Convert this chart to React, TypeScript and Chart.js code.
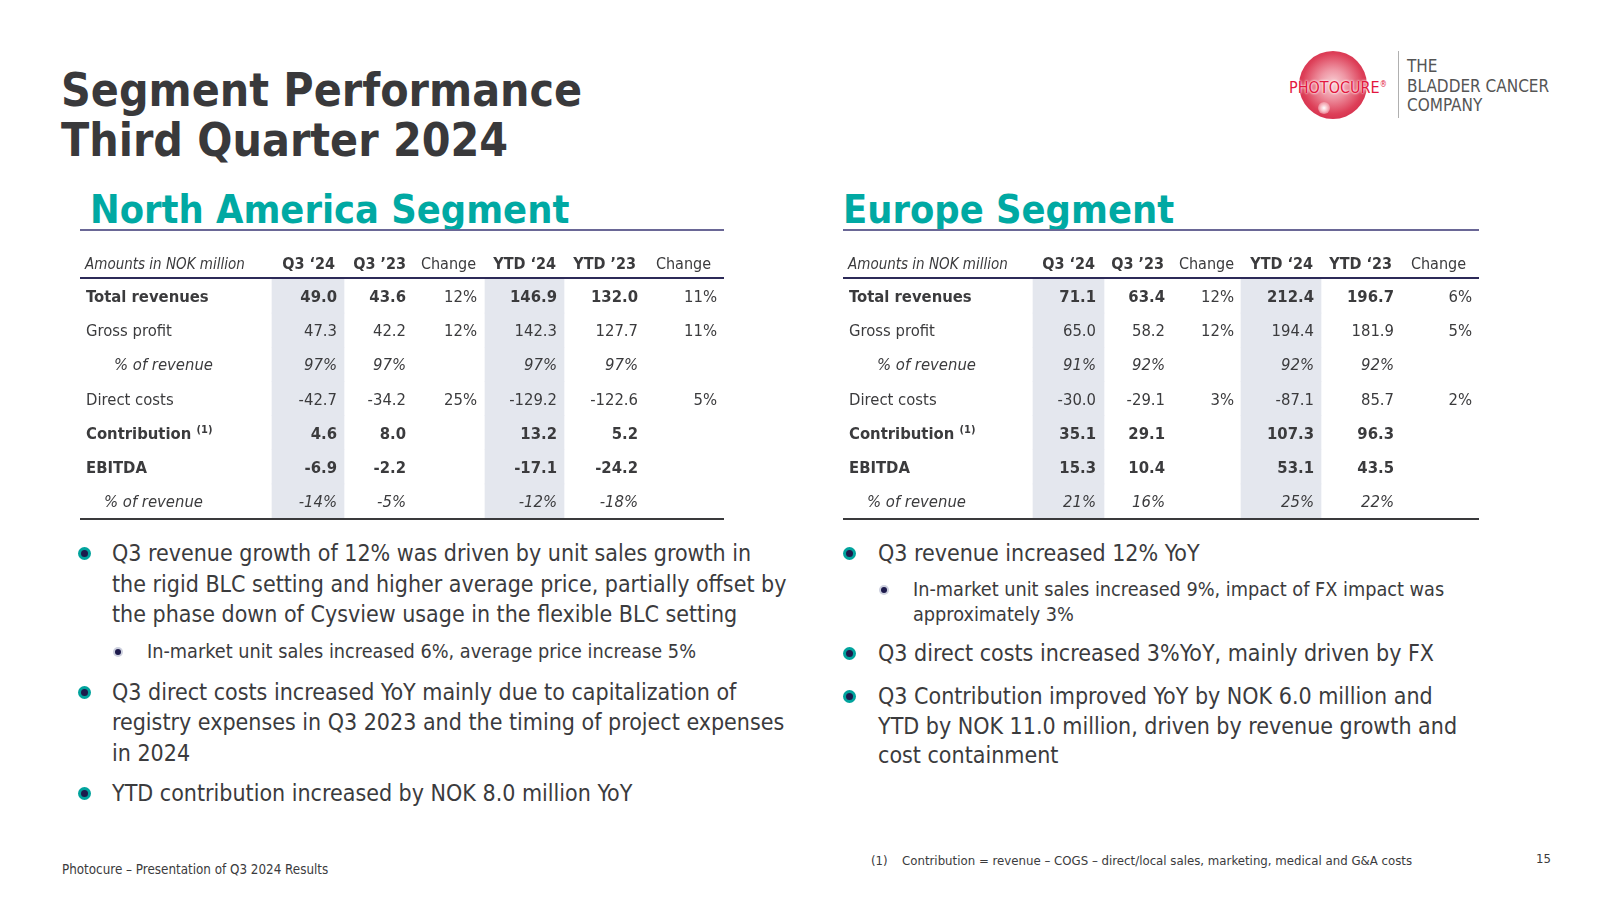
import React, { useEffect, useRef } from 'react';
import { Chart, registerables } from 'chart.js';

Chart.register(...registerables);

const FONT = '"DejaVu Sans Condensed", "DejaVu Sans", sans-serif';

// ---------------- data ----------------
const rowLabels = ['Total revenues', 'Gross profit', '% of revenue', 'Direct costs', 'Contribution', 'EBITDA', '% of revenue'];
const percentRows = [2, 6];
const boldRows = [0, 4, 5];
const naHeaders = ['Q3 \u201824', 'Q3 \u201923', 'Change', 'YTD \u201824', 'YTD \u201923', 'Change'];
const euHeaders = ['Q3 \u201824', 'Q3 \u201923', 'Change', 'YTD \u201824', 'YTD \u201823', 'Change'];

const naQ324 = [49.0, 47.3, 97, -42.7, 4.6, -6.9, -14];
const naQ323 = [43.6, 42.2, 97, -34.2, 8.0, -2.2, -5];
const naQChange = [12, 12, null, 25, null, null, null];
const naYtd24 = [146.9, 142.3, 97, -129.2, 13.2, -17.1, -12];
const naYtd23 = [132.0, 127.7, 97, -122.6, 5.2, -24.2, -18];
const naYtdChange = [11, 11, null, 5, null, null, null];

const euQ324 = [71.1, 65.0, 91, -30.0, 35.1, 15.3, 21];
const euQ323 = [63.4, 58.2, 92, -29.1, 29.1, 10.4, 16];
const euQChange = [12, 12, null, 3, null, null, null];
const euYtd24 = [212.4, 194.4, 92, -87.1, 107.3, 53.1, 25];
const euYtd23 = [196.7, 181.9, 92, 85.7, 96.3, 43.5, 22];
const euYtdChange = [6, 5, null, 2, null, null, null];

// ---------------- layout (positions / styles) ----------------
const TEXT = '#3b3b3d';
const SHADE = '#e4e7ee';
const CHANGE_COLS = [2, 5];

type TableProps = {
  left: number;
  top: number;
  width: number;
  headers: string[];
  columns: (number | null)[][];
  colEnds: number[];
  headerEnds: number[];
  shades: number[][];
};

function SegmentTable({ left, top, width, headers, columns, colEnds, headerEnds, shades }: TableProps) {
  const ref = useRef<HTMLCanvasElement | null>(null);
  useEffect(() => {
    if (!ref.current) return;
    const tablePlugin = {
      id: 'tableText',
      afterDatasetsDraw(chart: any) {
        const { ctx, chartArea, scales } = chart;
        const x = scales.x;
        const y = scales.y;
        ctx.save();
        // lines
        ctx.fillStyle = '#2c2a58';
        ctx.fillRect(chartArea.left, chartArea.top - 2, chartArea.width, 2);
        ctx.fillStyle = '#3a3a3c';
        ctx.fillRect(chartArea.left, chartArea.bottom, chartArea.width, 2);
        ctx.fillStyle = TEXT;
        ctx.textBaseline = 'alphabetic';
        // header
        const hy = chartArea.top - 10;
        ctx.textAlign = 'left';
        ctx.font = `italic 15px ${FONT}`;
        ctx.fillText('Amounts in NOK million', x.getPixelForValue(5), hy);
        headers.forEach((h, i) => {
          ctx.font = CHANGE_COLS.includes(i) ? `16px ${FONT}` : `bold 16px ${FONT}`;
          ctx.textAlign = 'right';
          ctx.fillText(h, x.getPixelForValue(headerEnds[i]), hy);
        });
        // rows
        rowLabels.forEach((lab, r) => {
          const yy = y.getPixelForValue(r) + 6;
          const bold = boldRows.includes(r);
          const pct = percentRows.includes(r);
          const indent = r === 2 ? 28 : r === 6 ? 18 : 0;
          ctx.textAlign = 'left';
          ctx.font = `${pct ? 'italic ' : ''}${bold ? 'bold ' : ''}16.5px ${FONT}`;
          const lx = x.getPixelForValue(6 + indent);
          ctx.fillText(lab, lx, yy);
          if (r === 4) {
            const w = ctx.measureText(lab + ' ').width;
            ctx.font = `bold 11px ${FONT}`;
            ctx.fillText('(1)', lx + w, yy - 6);
          }
          columns.forEach((col, c) => {
            const v = col[r];
            if (v === null || v === undefined) return;
            let s: string;
            if (CHANGE_COLS.includes(c)) {
              s = `${v}%`;
              ctx.font = `16.5px ${FONT}`;
            } else if (pct) {
              s = `${v}%`;
              ctx.font = `italic 16.5px ${FONT}`;
            } else {
              s = (v as number).toFixed(1);
              ctx.font = `${bold ? 'bold ' : ''}16.5px ${FONT}`;
            }
            ctx.textAlign = 'right';
            ctx.fillText(s, x.getPixelForValue(colEnds[c]), yy);
          });
        });
        ctx.restore();
      },
    };
    const chart = new Chart(ref.current, {
      type: 'bar',
      data: {
        labels: rowLabels,
        datasets: shades.map((s) => ({
          data: rowLabels.map(() => [s[0], s[1]]),
          backgroundColor: SHADE,
          borderWidth: 0,
          barPercentage: 1,
          categoryPercentage: 1,
          grouped: false,
        })),
      },
      options: {
        indexAxis: 'y',
        animation: false,
        responsive: false,
        maintainAspectRatio: false,
        layout: { padding: { top: 34, bottom: 3, left: 0, right: 0 } },
        plugins: { legend: { display: false }, tooltip: { enabled: false } },
        scales: {
          x: { type: 'linear', min: 0, max: width, display: false },
          y: { type: 'category', display: false, offset: true },
        },
      },
      plugins: [tablePlugin],
    } as any);
    return () => chart.destroy();
  }, []);
  return (
    <canvas
      ref={ref}
      width={width}
      height={276}
      style={{ position: 'absolute', left, top, width, height: 276 }}
    />
  );
}

type TxtProps = {
  x: number;
  b: number;
  size: number;
  weight?: number;
  italic?: boolean;
  color?: string;
  children: React.ReactNode;
};

function Txt({ x, b, size, weight = 400, italic = false, color = TEXT, children }: TxtProps) {
  return (
    <div
      style={{
        position: 'absolute',
        left: x,
        top: b - 0.846 * size,
        fontSize: size,
        lineHeight: `${size}px`,
        fontWeight: weight,
        fontStyle: italic ? 'italic' : 'normal',
        color,
        fontFamily: FONT,
        whiteSpace: 'nowrap',
      }}
    >
      {children}
    </div>
  );
}

function Dot({ cx, cy, sub = false }: { cx: number; cy: number; sub?: boolean }) {
  const outer = sub ? 10 : 13;
  const inner = sub ? 6 : 7;
  return (
    <div
      style={{
        position: 'absolute',
        left: cx - outer / 2,
        top: cy - outer / 2,
        width: outer,
        height: outer,
        borderRadius: '50%',
        background: sub ? '#cdd0de' : '#00a39d',
        display: 'flex',
        alignItems: 'center',
        justifyContent: 'center',
      }}
    >
      <div style={{ width: inner, height: inner, borderRadius: '50%', background: '#1d1a4c' }} />
    </div>
  );
}

const naBullets: { sub: boolean; lines: string[]; b: number[] }[] = [
  {
    sub: false,
    lines: [
      'Q3 revenue growth of 12% was driven by unit sales growth in',
      'the rigid BLC setting and higher average price, partially offset by',
      'the phase down of Cysview usage in the flexible BLC setting',
    ],
    b: [561, 592, 622],
  },
  { sub: true, lines: ['In-market unit sales increased 6%, average price increase 5%'], b: [659] },
  {
    sub: false,
    lines: [
      'Q3 direct costs increased YoY mainly due to capitalization of',
      'registry expenses in Q3 2023 and the timing of project expenses',
      'in 2024',
    ],
    b: [700, 730, 761],
  },
  { sub: false, lines: ['YTD contribution increased by NOK 8.0 million YoY'], b: [801] },
];

const euBullets: { sub: boolean; lines: string[]; b: number[] }[] = [
  { sub: false, lines: ['Q3 revenue increased 12% YoY'], b: [561] },
  {
    sub: true,
    lines: ['In-market unit sales increased 9%, impact of FX impact was', 'approximately 3%'],
    b: [597, 622],
  },
  { sub: false, lines: ['Q3 direct costs increased 3%YoY, mainly driven by FX'], b: [661] },
  {
    sub: false,
    lines: [
      'Q3 Contribution improved YoY by NOK 6.0 million and',
      'YTD by NOK 11.0 million, driven by revenue growth and',
      'cost containment',
    ],
    b: [704, 734, 763],
  },
];

function Bullets({ items, dotX, textX, subDotX, subTextX }: any) {
  return (
    <>
      {items.map((it: any, i: number) => (
        <React.Fragment key={i}>
          <Dot cx={it.sub ? subDotX : dotX} cy={it.b[0] - (it.sub ? 7 : 8)} sub={it.sub} />
          {it.lines.map((l: string, j: number) => (
            <Txt key={j} x={it.sub ? subTextX : textX} b={it.b[j]} size={it.sub ? 19.7 : 23}>
              {l}
            </Txt>
          ))}
        </React.Fragment>
      ))}
    </>
  );
}

export default function App() {
  return (
    <div
      style={{
        position: 'absolute',
        left: 0,
        top: 0,
        width: 1600,
        height: 900,
        background: '#ffffff',
        overflow: 'hidden',
        fontFamily: FONT,
      }}
    >
      {/* title */}
      <Txt x={61} b={106} size={46} weight={700} color="#39393b">Segment Performance</Txt>
      <Txt x={61} b={156} size={46} weight={700} color="#39393b">Third Quarter 2024</Txt>

      {/* logo */}
      <div
        style={{
          position: 'absolute',
          left: 1333 - 34,
          top: 85 - 34,
          width: 68,
          height: 68,
          borderRadius: '50%',
          background:
            'radial-gradient(circle at 50% 48%, #f8d0d5 0%, #ef97a5 28%, #dd3f58 62%, #c8173a 100%)',
        }}
      />
      <div
        style={{
          position: 'absolute',
          left: 1318,
          top: 102,
          width: 12,
          height: 12,
          borderRadius: '50%',
          background: 'radial-gradient(circle, #fff 0%, #f8c0c8 40%, rgba(230,80,100,0) 100%)',
        }}
      />
      <Txt x={1289} b={91} size={16} color="#e3173e">
        <span style={{ textShadow: '0 0 3px #fff, 0 0 2px #fff' }}>PHOTOCURE</span>
        <sup style={{ fontSize: 8 }}>®</sup>
      </Txt>
      <div style={{ position: 'absolute', left: 1398, top: 51, width: 1, height: 67, background: '#b0b0b0' }} />
      <Txt x={1407} b={72} size={17} color="#555555">THE</Txt>
      <Txt x={1407} b={92} size={17} color="#555555">BLADDER CANCER</Txt>
      <Txt x={1407} b={111} size={17} color="#555555">COMPANY</Txt>

      {/* segment titles */}
      <Txt x={90} b={223} size={39.4} weight={700} color="#00a9a3">North America Segment</Txt>
      <div style={{ position: 'absolute', left: 80, top: 229, width: 644, height: 2, background: '#6a6796' }} />
      <Txt x={843} b={223} size={39.4} weight={700} color="#00a9a3">Europe Segment</Txt>
      <div style={{ position: 'absolute', left: 843, top: 229, width: 636, height: 2, background: '#6a6796' }} />

      {/* tables */}
      <SegmentTable
        left={80}
        top={245}
        width={644}
        headers={naHeaders}
        columns={[naQ324, naQ323, naQChange, naYtd24, naYtd23, naYtdChange]}
        colEnds={[257, 326, 397, 477, 558, 637]}
        headerEnds={[255, 326, 396, 476, 556, 631]}
        shades={[
          [192, 264],
          [405, 484],
        ]}
      />
      <SegmentTable
        left={843}
        top={245}
        width={636}
        headers={euHeaders}
        columns={[euQ324, euQ323, euQChange, euYtd24, euYtd23, euYtdChange]}
        colEnds={[253, 322, 391, 471, 551, 629]}
        headerEnds={[252, 321, 391, 470, 549, 623]}
        shades={[
          [190, 261],
          [398, 478],
        ]}
      />

      {/* bullets */}
      <Bullets items={naBullets} dotX={84} textX={112} subDotX={118} subTextX={147} />
      <Bullets items={euBullets} dotX={849} textX={878} subDotX={884} subTextX={913} />

      {/* footer */}
      <Txt x={62} b={874} size={13.3}>Photocure – Presentation of Q3 2024 Results</Txt>
      <Txt x={871} b={865} size={13}>(1)</Txt>
      <Txt x={902} b={865} size={13.1}>Contribution = revenue – COGS – direct/local sales, marketing, medical and G&amp;A costs</Txt>
      <Txt x={1536} b={863} size={13}>15</Txt>
    </div>
  );
}
